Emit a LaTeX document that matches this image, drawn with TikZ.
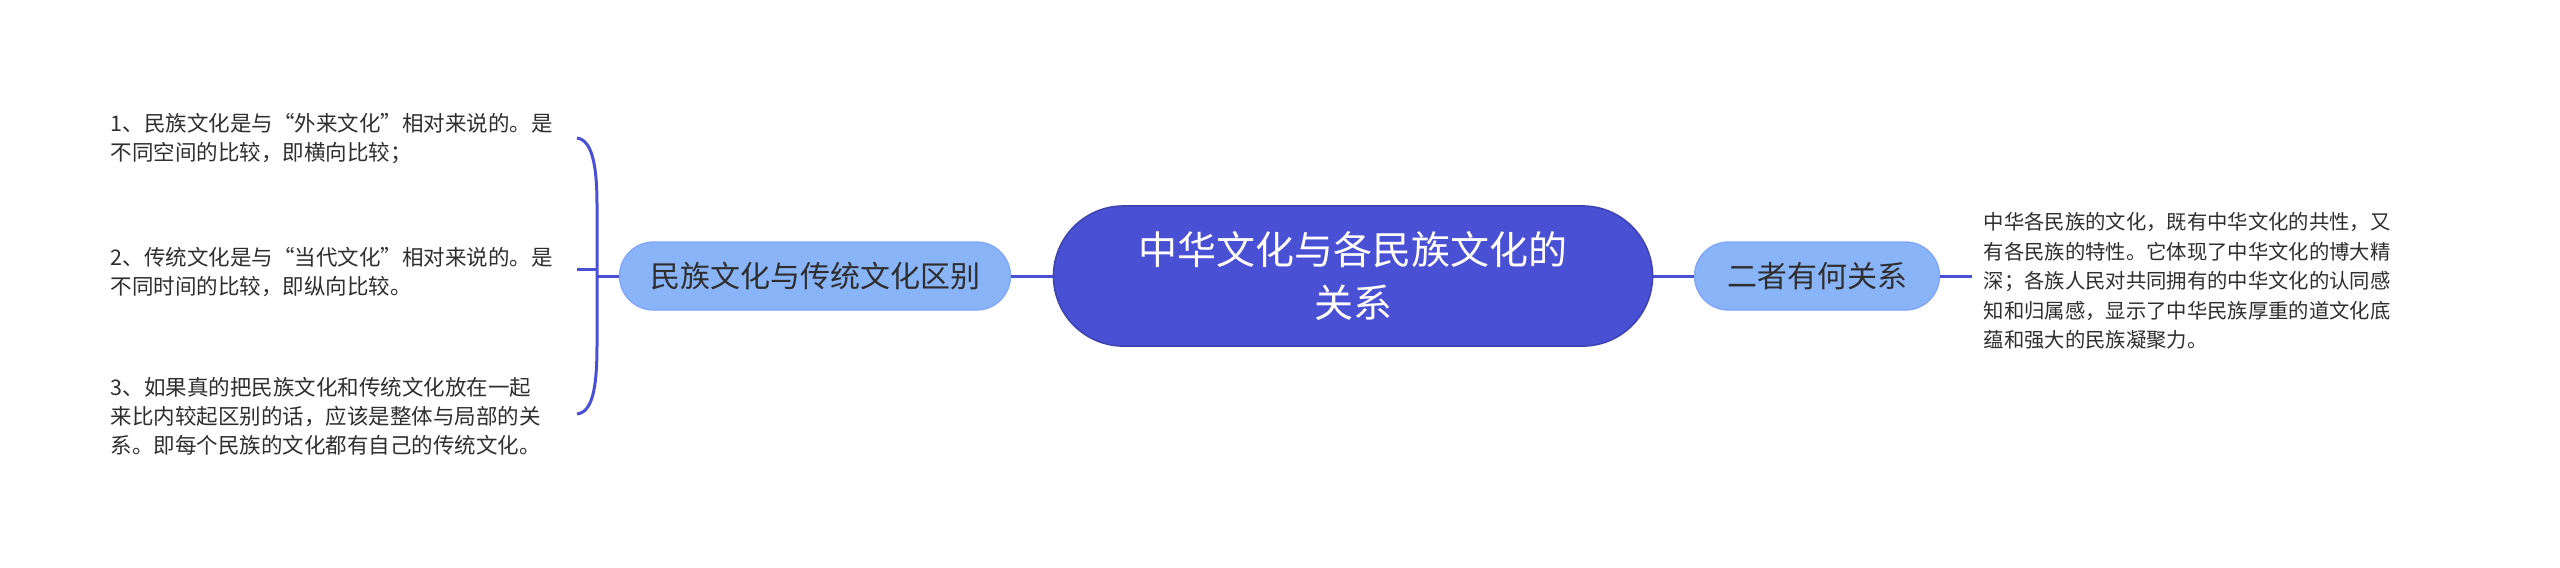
\documentclass[tikz,border=0pt]{standalone}
\usepackage{fontspec}
\setmainfont{Noto Sans CJK SC}
\definecolor{hub}{HTML}{4A50D4}
\definecolor{sub}{HTML}{8AB4F8}
\definecolor{ink}{HTML}{2E2E2E}
\tikzset{
  hubnode/.style={fill=hub,draw=hub!85!black,line width=0.5pt,text=white,align=center,
    minimum width=179.7pt,minimum height=42pt,rounded corners=21pt,
    font=\fontsize{11.7pt}{15.9pt}\selectfont},
  subnode/.style={fill=sub,draw=sub!92!blue,line width=0.4pt,text=ink,
    minimum height=20.4pt,rounded corners=10.2pt,font=\fontsize{9pt}{11pt}\selectfont},
  leaf/.style={text=ink,align=left,inner sep=0pt,font=\fontsize{6.45pt}{8.7pt}\selectfont},
  link/.style={draw=hub,line width=0.9pt}
}
\begin{document}
\begin{tikzpicture}[x=0.3pt,y=-0.3pt]
\useasboundingbox (0,0) rectangle (2560,567);
%---------------------------------------------------
\node[hubnode] (hub) at (1353,276) {中华文化与各民族文化的\\关系};
\node[subnode,minimum width=117.3pt] (diff) at (815,276) {民族文化与传统文化区别};
\node[subnode,minimum width=73.5pt] (rel) at (1817,276) {二者有何关系};
%---------------------------------------------------
\node[leaf,anchor=west] (d1) at (110,139) {1、民族文化是与“外来文化”相对来说的。是\\不同空间的比较，即横向比较；};
\node[leaf,anchor=west] (d2) at (110,272) {2、传统文化是与“当代文化”相对来说的。是\\不同时间的比较，即纵向比较。};
\node[leaf,anchor=west] (d3) at (110,416) {3、如果真的把民族文化和传统文化放在一起\\来比内较起区别的话，应该是整体与局部的关\\系。即每个民族的文化都有自己的传统文化。};
\node[leaf,anchor=west,inner xsep=3.3pt,font=\fontsize{6.1pt}{8.85pt}\selectfont] (relt) at (1972,281) {中华各民族的文化，既有中华文化的共性，又\\有各民族的特性。它体现了中华文化的博大精\\深；各族人民对共同拥有的中华文化的认同感\\知和归属感，显示了中华民族厚重的道文化底\\蕴和强大的民族凝聚力。};
%---------------------------------------------------
\coordinate (sp) at (597,276);
\coordinate (b1) at (577,138);
\coordinate (b2) at (577,269);
\coordinate (b3) at (577,414);
\draw[link] (b1) .. controls (592,140) and (597,165) .. (597,205) -- (597,345) .. controls (597,390) and (592,412) .. (b3);
\draw[link] (b2) -- (b2 -| sp);
\draw[link] (diff.west) -- (sp);
\draw[link] (hub.west) -- (diff.east);
\draw[link] (hub.east) -- (rel.west);
\draw[link] (rel.east) -- (relt.west |- rel.east);
\end{tikzpicture}
\end{document}
